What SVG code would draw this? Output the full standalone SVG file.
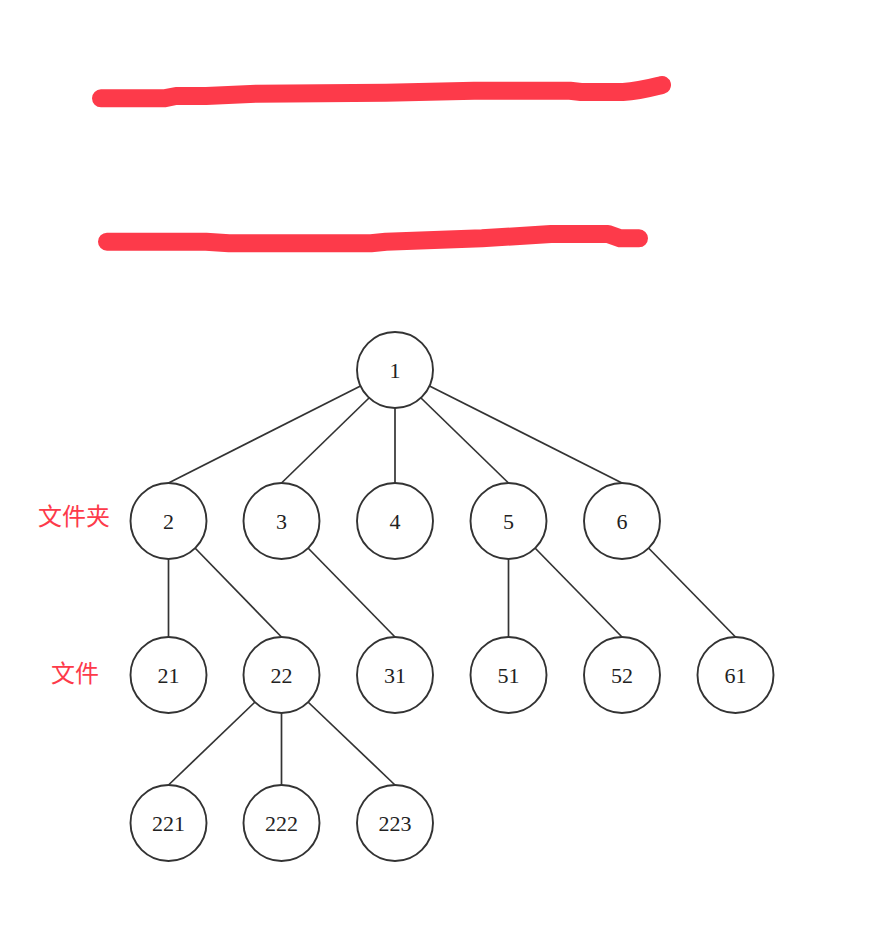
<svg xmlns="http://www.w3.org/2000/svg" width="888" height="930" viewBox="0 0 888 930">
<style>
.n circle{fill:#fff;stroke:#333;stroke-width:1.9}
.n text{font-family:"Liberation Serif","DejaVu Serif",serif;font-size:22px;fill:#222;text-anchor:middle;dominant-baseline:central}
.e line{stroke:#333;stroke-width:1.7}
.lbl{font-family:"Noto Sans CJK SC","Noto Sans",sans-serif;font-size:24px;fill:#fd3a4a}
.mark{fill:none;stroke:#fd3a4a;stroke-width:18;stroke-linecap:round;stroke-linejoin:round}
</style>
<rect width="888" height="930" fill="#fff"/>
<path class="mark" d="M101,98.3 L164,98.3 L176,96 L206,96 L256,93.7 L386,92.7 L474,90.7 L570,90.7 L581,92 L623,92 C640,91 650,88 662,85"/>
<path class="mark" d="M107,241.7 L206,241.7 L229,243.3 L371,243.3 L386,241.7 L482,238.3 L551,234 L608,234 L620,238.3 L639,238.3"/>
<g class="e" id="edges">
<line x1="360.5" y1="386" x2="168.5" y2="483"/>
<line x1="369" y1="398" x2="281.5" y2="483"/>
<line x1="395" y1="408" x2="395" y2="483"/>
<line x1="421" y1="398" x2="508.5" y2="483"/>
<line x1="429.5" y1="386" x2="622" y2="483"/>
<line x1="168.5" y1="559" x2="168.5" y2="637"/>
<line x1="195" y1="548" x2="281.5" y2="637"/>
<line x1="308" y1="548" x2="395" y2="637"/>
<line x1="508.5" y1="559" x2="508.5" y2="637"/>
<line x1="535" y1="548" x2="622" y2="637"/>
<line x1="648.5" y1="548" x2="735.5" y2="637"/>
<line x1="255" y1="702" x2="168.5" y2="785"/>
<line x1="281.5" y1="713" x2="281.5" y2="785"/>
<line x1="308" y1="702" x2="395" y2="785"/>
</g>
<g class="n" id="n1"><circle cx="395" cy="370" r="38"/><text x="395" y="370">1</text></g>
<g class="n" id="n2"><circle cx="168.5" cy="521" r="38"/><text x="168.5" y="521">2</text></g>
<g class="n" id="n3"><circle cx="281.5" cy="521" r="38"/><text x="281.5" y="521">3</text></g>
<g class="n" id="n4"><circle cx="395" cy="521" r="38"/><text x="395" y="521">4</text></g>
<g class="n" id="n5"><circle cx="508.5" cy="521" r="38"/><text x="508.5" y="521">5</text></g>
<g class="n" id="n6"><circle cx="622" cy="521" r="38"/><text x="622" y="521">6</text></g>
<g class="n" id="n21"><circle cx="168.5" cy="675" r="38"/><text x="168.5" y="675">21</text></g>
<g class="n" id="n22"><circle cx="281.5" cy="675" r="38"/><text x="281.5" y="675">22</text></g>
<g class="n" id="n31"><circle cx="395" cy="675" r="38"/><text x="395" y="675">31</text></g>
<g class="n" id="n51"><circle cx="508.5" cy="675" r="38"/><text x="508.5" y="675">51</text></g>
<g class="n" id="n52"><circle cx="622" cy="675" r="38"/><text x="622" y="675">52</text></g>
<g class="n" id="n61"><circle cx="735.5" cy="675" r="38"/><text x="735.5" y="675">61</text></g>
<g class="n" id="n221"><circle cx="168.5" cy="823" r="38"/><text x="168.5" y="823">221</text></g>
<g class="n" id="n222"><circle cx="281.5" cy="823" r="38"/><text x="281.5" y="823">222</text></g>
<g class="n" id="n223"><circle cx="395" cy="823" r="38"/><text x="395" y="823">223</text></g>
<g id="labels">
<text class="lbl" x="38" y="525">文件夹</text>
<text class="lbl" x="51" y="682">文件</text>
</g>
</svg>
